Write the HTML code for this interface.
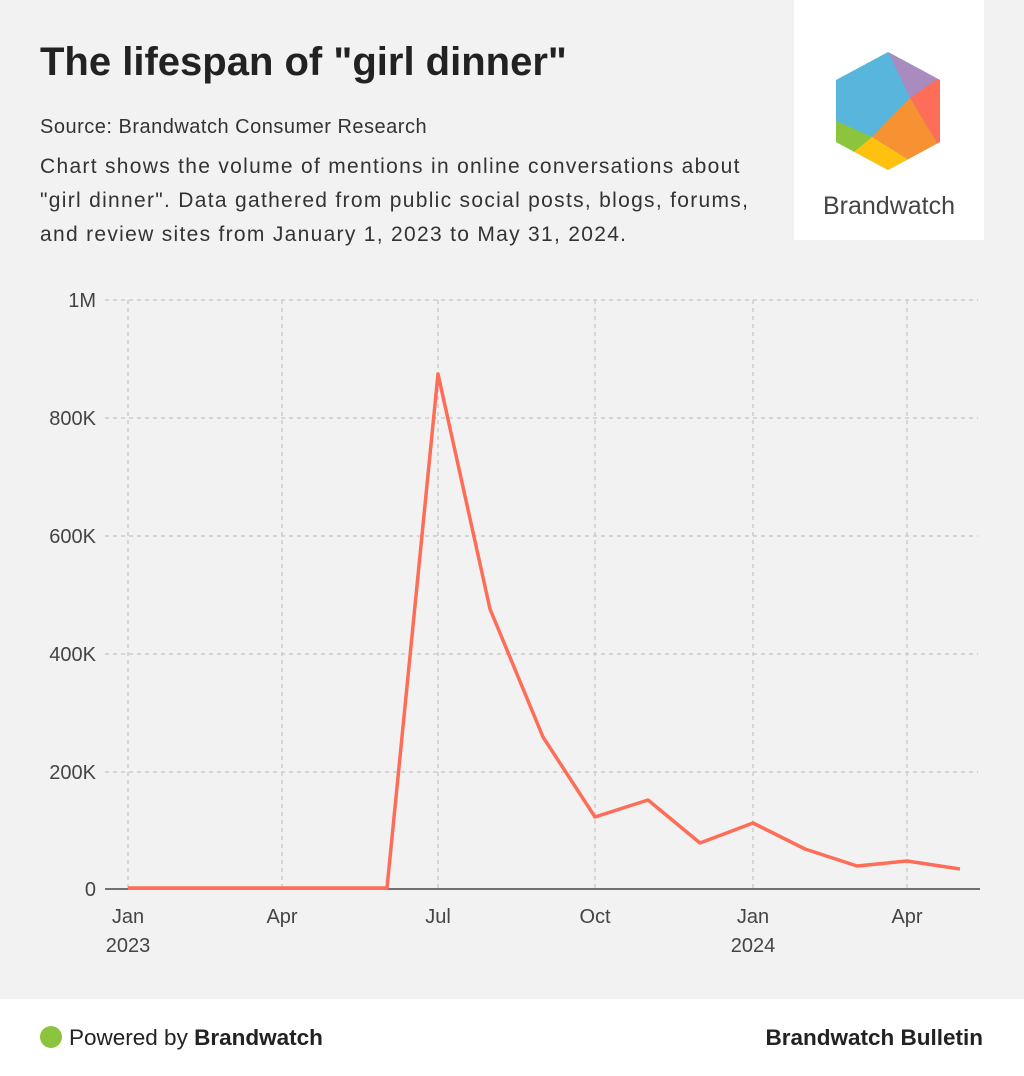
<!DOCTYPE html>
<html><head><meta charset="utf-8"><style>
body{margin:0;width:1024px;height:1076px;background:#f2f2f2;font-family:"Liberation Sans",Arial,sans-serif;position:relative;overflow:hidden;color:#222}
.t{position:absolute;left:40px;top:40px;font-size:40px;font-weight:bold;color:#222}
.s{position:absolute;left:40px;top:116px;font-size:20px;color:#333;letter-spacing:0.5px}
.d{position:absolute;left:40px;top:150px;font-size:21px;line-height:34px;color:#333;width:760px;letter-spacing:1.3px;white-space:nowrap}
.logo{position:absolute;left:794px;top:0;width:190px;height:240px;background:#fff}
.foot{position:absolute;left:0;top:999px;width:1024px;height:77px;background:#fff;font-size:22.5px}
</style></head><body>
<div class="t">The lifespan of "girl dinner"</div>
<div class="s">Source: Brandwatch Consumer Research</div>
<div class="d">Chart shows the volume of mentions in online conversations about<br>"girl dinner". Data gathered from public social posts, blogs, forums,<br>and review sites from January 1, 2023 to May 31, 2024.</div>
<div class="logo">
<svg width="190" height="240" viewBox="794 0 190 240">
<defs><clipPath id="h"><path d="M888,52 L940,80 L940,142 L888,170 L836,142 L836,80 Z"/></clipPath></defs>
<g clip-path="url(#h)">
<rect x="830" y="45" width="120" height="130" fill="#58b6dc"/>
<polygon points="885,45 950,45 950,70 910,98" fill="#a98bbf"/>
<polygon points="910,98 950,70 950,150 940,148" fill="#fe6d58"/>
<polygon points="910,98 940,148 912,162 872,137" fill="#f79233"/>
<polygon points="872,137 912,162 890,180 850,155" fill="#fec10e"/>
<polygon points="830,118 872,137 850,155 830,160" fill="#8cc43e"/>
</g>
<text x="889" y="214" text-anchor="middle" font-size="25" fill="#444" font-family="Liberation Sans,sans-serif">Brandwatch</text>
</svg></div>
<svg style="position:absolute;left:0;top:0" width="1024" height="999">
<g stroke="#cccccc" stroke-width="1.5" stroke-dasharray="4,4" fill="none">
<line x1="105" y1="300" x2="978" y2="300"/><line x1="105" y1="418" x2="978" y2="418"/><line x1="105" y1="536" x2="978" y2="536"/><line x1="105" y1="654" x2="978" y2="654"/><line x1="105" y1="772" x2="978" y2="772"/>
<line x1="128" y1="300" x2="128" y2="889"/><line x1="282" y1="300" x2="282" y2="889"/><line x1="438" y1="300" x2="438" y2="889"/><line x1="595" y1="300" x2="595" y2="889"/><line x1="753" y1="300" x2="753" y2="889"/><line x1="907" y1="300" x2="907" y2="889"/>
</g>
<line x1="105" y1="889" x2="980" y2="889" stroke="#444" stroke-width="1.5"/>
<g fill="#444" font-size="20" text-anchor="end">
<text x="96" y="307">1M</text><text x="96" y="425">800K</text><text x="96" y="543">600K</text><text x="96" y="661">400K</text><text x="96" y="779">200K</text><text x="96" y="896">0</text>
</g>
<g fill="#444" font-size="20" text-anchor="middle">
<text x="128" y="923">Jan</text><text x="128" y="952">2023</text><text x="282" y="923">Apr</text><text x="438" y="923">Jul</text><text x="595" y="923">Oct</text><text x="753" y="923">Jan</text><text x="753" y="952">2024</text><text x="907" y="923">Apr</text>
</g>
<polyline fill="none" stroke="#fe6d58" stroke-width="3.5" stroke-linejoin="round" points="128,888 180,888 232,888 282,888 335,888 387,888 438,374 490,609 543,737 595,817 648,800 700,843 753,823 805,849 857,866 907,861 960,869"/>
</svg>
<div class="foot">
<span style="position:absolute;left:40px;top:27px;width:22px;height:22px;border-radius:50%;background:#8cc43e"></span>
<span style="position:absolute;left:69px;top:26px;color:#222">Powered by <b>Brandwatch</b></span>
<span style="position:absolute;right:41px;top:26px;font-weight:bold;color:#222">Brandwatch Bulletin</span>
</div>
</body></html>
